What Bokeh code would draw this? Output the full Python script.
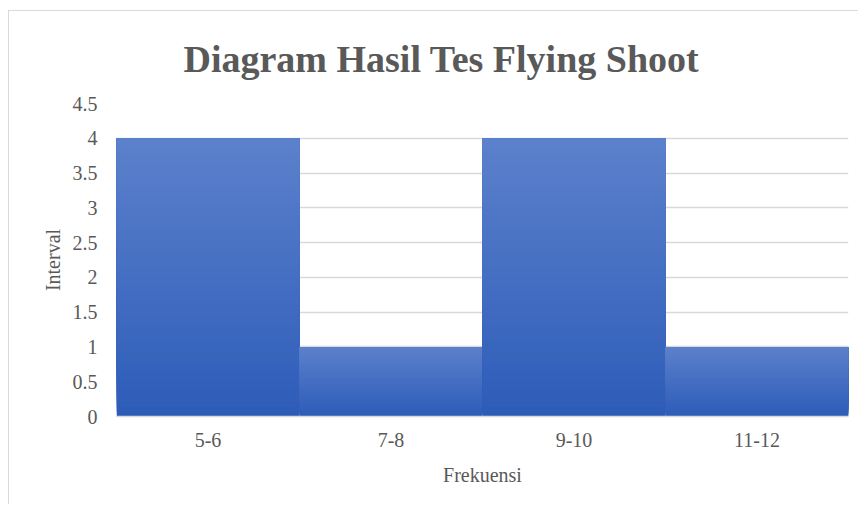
from bokeh.plotting import figure
from bokeh.embed import file_html
from bokeh.resources import INLINE
from bokeh.models import ColumnDataSource, Title, FixedTicker
import numpy as np

categories = ["5-6", "7-8", "9-10", "11-12"]
values = [4, 1, 4, 1]
y_ticks = [0, 0.5, 1, 1.5, 2, 2.5, 3, 3.5, 4, 4.5]
title_text = "Diagram Hasil Tes Flying Shoot"
x_label = "Frekuensi"
y_label = "Interval"

top_rgb = np.array([0x5c, 0x81, 0xcc])
bot_rgb = np.array([0x2d, 0x5c, 0xb8])
n_slices = 60

# gradient: layered slices, each from its level up to the bar top (no seams)
xs, bottoms, tops, colors = [], [], [], []
for c, v in zip(categories, values):
    for i in range(n_slices):
        f0 = i / n_slices
        t = (i + 0.5) / n_slices
        rgb = bot_rgb + (top_rgb - bot_rgb) * t
        xs.append(c)
        bottoms.append(v * f0)
        tops.append(v)
        colors.append("#%02x%02x%02x" % tuple(int(round(q)) for q in rgb))

src = ColumnDataSource(dict(x=xs, bottom=bottoms, top=tops, color=colors))

p = figure(x_range=categories, y_range=(0, 4.5), width=850, height=494,
           output_backend="svg", toolbar_location=None,
           min_border_left=107, min_border_right=11, min_border_top=92, min_border_bottom=89)
p.styles = {"margin-left": "8px", "margin-top": "10px",
            "border-left": "1px solid #d9d9d9", "border-top": "1px solid #d9d9d9"}

p.vbar(x="x", bottom="bottom", top="top", width=1.0, color="color", line_color=None, source=src)

t = Title(text=title_text, align="left", text_font="Liberation Serif", text_font_style="bold",
          text_font_size="38px", text_color="#595959", offset=67, standoff=48)
p.add_layout(t, "above")

p.outline_line_color = None
p.xgrid.grid_line_color = None
p.ygrid.grid_line_color = "#d9d9d9"
p.ygrid.grid_line_width = 1.5
p.yaxis.ticker = FixedTicker(ticks=y_ticks)
p.yaxis.major_label_overrides = {0: "0", 1: "1", 2: "2", 3: "3", 4: "4"}

for ax in (p.xaxis, p.yaxis):
    ax.major_tick_line_color = None
    ax.minor_tick_line_color = None
    ax.major_label_text_font = "Liberation Serif"
    ax.major_label_text_font_size = "20px"
    ax.major_label_text_color = "#595959"
    ax.axis_label_text_font = "Liberation Serif"
    ax.axis_label_text_font_size = "20px"
    ax.axis_label_text_color = "#595959"
    ax.axis_label_text_font_style = "normal"

p.yaxis.axis_line_color = None
p.xaxis.axis_line_color = "#d9d9d9"
p.xaxis.axis_line_width = 1.5
p.xaxis.axis_label = x_label
p.yaxis.axis_label = y_label
p.xaxis.major_label_standoff = 10
p.xaxis.axis_label_standoff = 14
p.yaxis.major_label_standoff = 13
p.yaxis.axis_label_standoff = 6

open("out.html", "w").write(file_html(p, INLINE))
